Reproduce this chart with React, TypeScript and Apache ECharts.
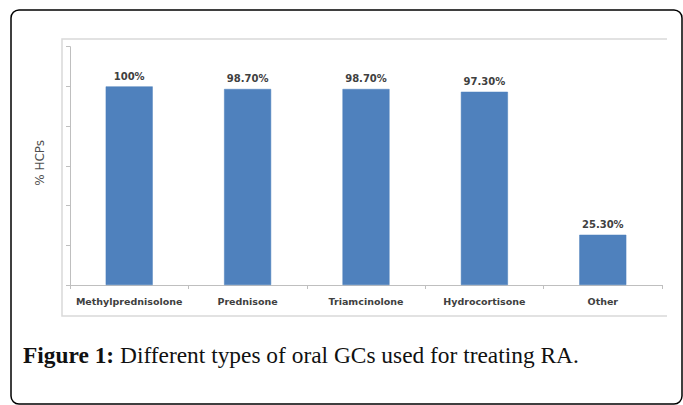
import React, { useEffect, useRef } from "react";
import * as echarts from "echarts";

const categories = ["Methylprednisolone", "Prednisone", "Triamcinolone", "Hydrocortisone", "Other"];
const values = [100, 98.7, 98.7, 97.3, 25.3];
const valueLabels = ["100%", "98.70%", "98.70%", "97.30%", "25.30%"];
const yAxisName = "% HCPs";
const captionBold = "Figure 1:";
const captionText = " Different types of oral GCs used for treating RA.";

export default function App() {
  const ref = useRef<HTMLDivElement>(null);
  useEffect(() => {
    if (!ref.current) return;
    const chart = echarts.init(ref.current, null, { renderer: "svg" });
    chart.setOption({
      animation: false,
      backgroundColor: "#ffffff",
      grid: { left: 70, right: 21, top: 46.7, bottom: 120, containLabel: false },
      xAxis: {
        type: "category",
        data: categories,
        axisLine: { lineStyle: { color: "#bfbfbf", width: 1 } },
        axisTick: { show: true, length: 4, lineStyle: { color: "#bfbfbf" } },
        axisLabel: {
          margin: 11,
          color: "#404040",
          fontFamily: "DejaVu Sans",
          fontWeight: "bold",
          fontSize: 9.5,
          interval: 0,
        },
      },
      yAxis: {
        type: "value",
        min: 0,
        max: 120,
        interval: 20,
        name: yAxisName,
        nameLocation: "middle",
        nameGap: 24,
        nameRotate: 90,
        nameTextStyle: { fontFamily: "DejaVu Sans", fontSize: 12, color: "#505050", padding: [0, 0, 0, 6] },
        axisLine: { show: true, lineStyle: { color: "#bfbfbf", width: 1 } },
        axisTick: { show: true, length: 4, lineStyle: { color: "#bfbfbf" } },
        axisLabel: { show: false },
        splitLine: { show: false },
      },
      series: [
        {
          type: "bar",
          data: values,
          barWidth: 47,
          itemStyle: { color: "#4f81bd", borderColor: "#4a7ebb", borderWidth: 0.5 },
          label: {
            show: true,
            position: "top",
            distance: 5,
            formatter: (p: any) => valueLabels[p.dataIndex],
            fontFamily: "DejaVu Sans",
            fontWeight: "bold",
            fontSize: 10,
            color: "#404040",
          },
        },
      ],
      graphic: [
        {
          type: "rect",
          shape: { x: 11, y: 10, width: 671, height: 394, r: 8 },
          style: { fill: "none", stroke: "#000000", lineWidth: 1.5 },
          silent: true,
        },
        {
          type: "polyline",
          shape: { points: [[667, 39], [62, 39], [62, 316], [667, 316]] },
          style: { fill: "none", stroke: "#d9d9d9", lineWidth: 1.5 },
          silent: true,
        },
        {
          type: "text",
          x: 23,
          y: 355,
          style: {
            text: "{b|" + captionBold + "}" + captionText,
            fontFamily: "Liberation Serif",
            fontSize: 23.4,
            fill: "#111111",
            verticalAlign: "middle",
            rich: {
              b: { fontFamily: "Liberation Serif", fontSize: 23.4, fontWeight: "bold", fill: "#111111" },
            },
          },
        },
      ],
    });
    return () => chart.dispose();
  }, []);
  return <div ref={ref} style={{ position: "fixed", left: 0, top: 0, width: 683, height: 405 }} />;
}
